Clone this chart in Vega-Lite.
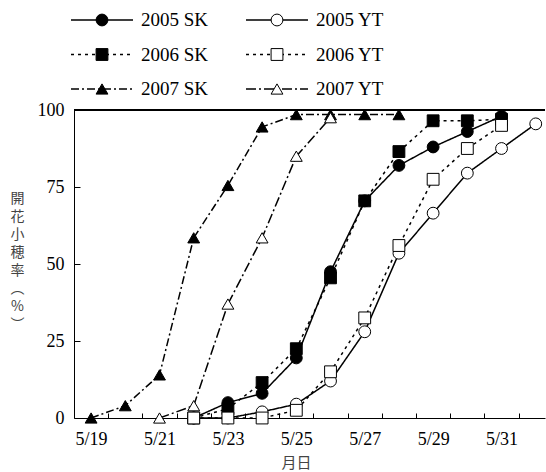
{
  "$schema": "https://vega.github.io/schema/vega-lite/v6.json",
  "padding": {"left": 10, "top": 5, "right": 0, "bottom": 0},
  "spacing": 0,
  "config": {
    "view": {"stroke": null},
    "axis": {"grid": false, "domainColor": "black", "tickColor": "black", "labelColor": "black"}
  },
  "datasets": {
    "pts": [
      {"series": "2005 SK", "date": "5/22", "pct": 0},
      {"series": "2005 SK", "date": "5/23", "pct": 5},
      {"series": "2005 SK", "date": "5/24", "pct": 8},
      {"series": "2005 SK", "date": "5/25", "pct": 19.5},
      {"series": "2005 SK", "date": "5/26", "pct": 47.5},
      {"series": "2005 SK", "date": "5/27", "pct": 70.5},
      {"series": "2005 SK", "date": "5/28", "pct": 82},
      {"series": "2005 SK", "date": "5/29", "pct": 88},
      {"series": "2005 SK", "date": "5/30", "pct": 93},
      {"series": "2005 SK", "date": "5/31", "pct": 98},
      {"series": "2006 SK", "date": "5/22", "pct": 0},
      {"series": "2006 SK", "date": "5/23", "pct": 3},
      {"series": "2006 SK", "date": "5/24", "pct": 11.5},
      {"series": "2006 SK", "date": "5/25", "pct": 22.5},
      {"series": "2006 SK", "date": "5/26", "pct": 45.5},
      {"series": "2006 SK", "date": "5/27", "pct": 70.5},
      {"series": "2006 SK", "date": "5/28", "pct": 86.5},
      {"series": "2006 SK", "date": "5/29", "pct": 96.5},
      {"series": "2006 SK", "date": "5/30", "pct": 96.5},
      {"series": "2006 SK", "date": "5/31", "pct": 97},
      {"series": "2005 YT", "date": "5/22", "pct": 0},
      {"series": "2005 YT", "date": "5/23", "pct": 0},
      {"series": "2005 YT", "date": "5/24", "pct": 2},
      {"series": "2005 YT", "date": "5/25", "pct": 4.5},
      {"series": "2005 YT", "date": "5/26", "pct": 12},
      {"series": "2005 YT", "date": "5/27", "pct": 28},
      {"series": "2005 YT", "date": "5/28", "pct": 53.5},
      {"series": "2005 YT", "date": "5/29", "pct": 66.5},
      {"series": "2005 YT", "date": "5/30", "pct": 79.5},
      {"series": "2005 YT", "date": "5/31", "pct": 87.5},
      {"series": "2005 YT", "date": "6/1", "pct": 95.5},
      {"series": "2006 YT", "date": "5/22", "pct": 0},
      {"series": "2006 YT", "date": "5/23", "pct": 0},
      {"series": "2006 YT", "date": "5/24", "pct": 0},
      {"series": "2006 YT", "date": "5/25", "pct": 2.5},
      {"series": "2006 YT", "date": "5/26", "pct": 15},
      {"series": "2006 YT", "date": "5/27", "pct": 32.5},
      {"series": "2006 YT", "date": "5/28", "pct": 56},
      {"series": "2006 YT", "date": "5/29", "pct": 77.5},
      {"series": "2006 YT", "date": "5/30", "pct": 87.5},
      {"series": "2006 YT", "date": "5/31", "pct": 95},
      {"series": "2007 SK", "date": "5/19", "pct": 0},
      {"series": "2007 SK", "date": "5/20", "pct": 4},
      {"series": "2007 SK", "date": "5/21", "pct": 14},
      {"series": "2007 SK", "date": "5/22", "pct": 58.5},
      {"series": "2007 SK", "date": "5/23", "pct": 75.5},
      {"series": "2007 SK", "date": "5/24", "pct": 94.5},
      {"series": "2007 SK", "date": "5/25", "pct": 98.5},
      {"series": "2007 SK", "date": "5/26", "pct": 98.5},
      {"series": "2007 SK", "date": "5/27", "pct": 98.5},
      {"series": "2007 SK", "date": "5/28", "pct": 98.5},
      {"series": "2007 YT", "date": "5/21", "pct": 0},
      {"series": "2007 YT", "date": "5/22", "pct": 4},
      {"series": "2007 YT", "date": "5/23", "pct": 37},
      {"series": "2007 YT", "date": "5/24", "pct": 58.5},
      {"series": "2007 YT", "date": "5/25", "pct": 85},
      {"series": "2007 YT", "date": "5/26", "pct": 97.5}
    ],
    "leg": [
      {"series": "2005 SK", "year": "2005", "species": "SK"},
      {"series": "2005 YT", "year": "2005", "species": "YT"},
      {"series": "2006 SK", "year": "2006", "species": "SK"},
      {"series": "2006 YT", "year": "2006", "species": "YT"},
      {"series": "2007 SK", "year": "2007", "species": "SK"},
      {"series": "2007 YT", "year": "2007", "species": "YT"}
    ]
  },
  "resolve": {"scale": {"x": "independent", "y": "independent"}},
  "vconcat": [
    {
      "width": 471,
      "height": 96,
      "data": {"name": "leg"},
      "encoding": {
        "x": {"field": "species", "type": "nominal", "axis": null, "scale": {"type": "point", "padding": 0, "domain": ["SK", "YT"], "range": [28, 203]}},
        "y": {"field": "year", "type": "nominal", "axis": null, "scale": {"type": "point", "padding": 0, "domain": ["2005", "2006", "2007"], "range": [15, 84]}}
      },
      "layer": [
        {
          "mark": {"type": "point", "shape": "M-1,0H1", "size": 3844, "stroke": "black", "strokeWidth": 1.5, "filled": false, "opacity": 1},
          "encoding": {
            "strokeDash": {"field": "series", "type": "nominal", "legend": null,
              "scale": {"domain": ["2005 SK", "2005 YT", "2006 SK", "2006 YT", "2007 SK", "2007 YT"],
                        "range": [[1, 0], [1, 0], [3, 4], [3, 4], [8, 3, 2, 3], [10, 3, 2, 3]]}}
          }
        },
        {
          "mark": {"type": "point", "filled": true, "stroke": "black", "strokeWidth": 1, "size": 140, "opacity": 1},
          "encoding": {
            "shape": {"field": "series", "type": "nominal", "legend": null,
              "scale": {"domain": ["2005 SK", "2005 YT", "2006 SK", "2006 YT", "2007 SK", "2007 YT"],
                        "range": ["circle", "circle", "square", "square", "triangle-up", "triangle-up"]}},
            "fill": {"field": "series", "type": "nominal", "legend": null,
              "scale": {"domain": ["2005 SK", "2005 YT", "2006 SK", "2006 YT", "2007 SK", "2007 YT"],
                        "range": ["black", "white", "black", "white", "black", "white"]}}
          }
        },
        {
          "mark": {"type": "text", "align": "left", "baseline": "middle", "dx": 39, "font": "Liberation Serif", "fontSize": 19, "color": "black"},
          "encoding": {"text": {"field": "series", "type": "nominal"}}
        }
      ]
    },
    {
      "width": 471,
      "height": 308,
      "data": {"name": "pts", "format": {"parse": {"date": "date:'%m/%d'"}}},
      "encoding": {
        "x": {"field": "date", "type": "temporal",
          "scale": {"domain": [{"year": 1900, "month": 5, "date": 18, "hours": 12}, {"year": 1900, "month": 6, "date": 1, "hours": 6, "minutes": 30}]},
          "axis": {
            "values": [
              {"year": 1900, "month": 5, "date": 19}, {"year": 1900, "month": 5, "date": 20}, {"year": 1900, "month": 5, "date": 21},
              {"year": 1900, "month": 5, "date": 22}, {"year": 1900, "month": 5, "date": 23}, {"year": 1900, "month": 5, "date": 24},
              {"year": 1900, "month": 5, "date": 25}, {"year": 1900, "month": 5, "date": 26}, {"year": 1900, "month": 5, "date": 27},
              {"year": 1900, "month": 5, "date": 28}, {"year": 1900, "month": 5, "date": 29}, {"year": 1900, "month": 5, "date": 30},
              {"year": 1900, "month": 5, "date": 31}
            ],
            "labelExpr": "date(datum.value) % 2 == 1 ? timeFormat(datum.value, '%-m/%-d') : ''",
            "tickSize": -5, "tickOffset": 17.1, "labelOffset": -17.1, "labelPadding": 17,
            "labelFont": "Liberation Serif", "labelFontSize": 18, "labelOverlap": false, "labelFlush": false,
            "title": "月日", "titleFont": "Noto Sans CJK JP", "titleFontSize": 15, "titleFontWeight": "normal", "titleColor": "#444",
            "titleX": 222, "titleY": 37
          }
        },
        "y": {"field": "pct", "type": "quantitative",
          "scale": {"domain": [0, 100], "nice": false},
          "axis": {
            "values": [0, 25, 50, 75, 100],
            "tickSize": -6, "labelPadding": 16,
            "labelFont": "Liberation Serif", "labelFontSize": 18,
            "title": ["開", "花", "小", "穂", "率", "︵", "%", "︶"],
            "titleFont": "Noto Sans CJK JP", "titleFontSize": 14, "titleFontWeight": "normal", "titleColor": "#444",
            "titleAngle": 0, "titleAlign": "center", "titleBaseline": "middle", "titleLineHeight": 18,
            "titleX": -57, "titleY": 88.5
          }
        }
      },
      "layer": [
        {
          "mark": {"type": "rule", "color": "black", "strokeWidth": 1},
          "encoding": {"y": {"datum": 100}, "x": null}
        },
        {
          "mark": {"type": "line", "color": "black", "strokeWidth": 1.5},
          "encoding": {
            "strokeDash": {"field": "series", "type": "nominal", "legend": null,
              "scale": {"domain": ["2005 SK", "2005 YT", "2006 SK", "2006 YT", "2007 SK", "2007 YT"],
                        "range": [[1, 0], [1, 0], [3, 4], [3, 4], [8, 3, 2, 3], [10, 3, 2, 3]]}}
          }
        },
        {
          "mark": {"type": "point", "filled": true, "stroke": "black", "strokeWidth": 1, "size": 140, "opacity": 1},
          "encoding": {
            "shape": {"field": "series", "type": "nominal", "legend": null,
              "scale": {"domain": ["2005 SK", "2005 YT", "2006 SK", "2006 YT", "2007 SK", "2007 YT"],
                        "range": ["circle", "circle", "square", "square", "triangle-up", "triangle-up"]}},
            "fill": {"field": "series", "type": "nominal", "legend": null,
              "scale": {"domain": ["2005 SK", "2005 YT", "2006 SK", "2006 YT", "2007 SK", "2007 YT"],
                        "range": ["black", "white", "black", "white", "black", "white"]}}
          }
        }
      ]
    }
  ]
}
